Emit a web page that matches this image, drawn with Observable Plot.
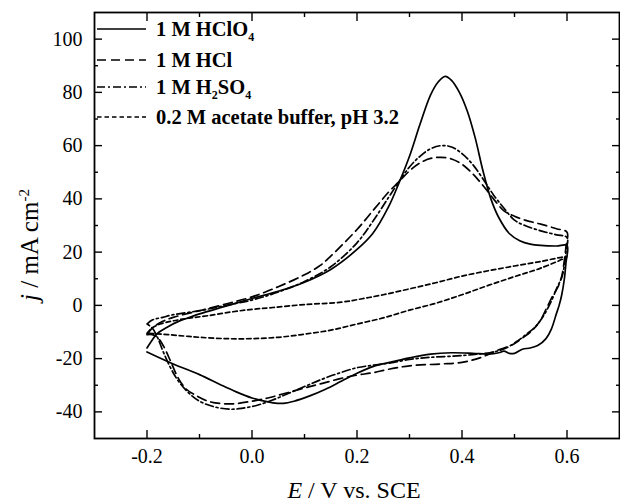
<!DOCTYPE html>
<html><head><meta charset="utf-8">
<script src="https://cdn.jsdelivr.net/npm/d3@7"></script>
<script src="https://cdn.jsdelivr.net/npm/@observablehq/plot@0.6"></script>
<style>body{margin:0;background:#fff} #chart{width:620px;height:504px} #chart svg text{font-family:"Liberation Serif",serif}</style>
</head><body><div id="chart"></div>
<script>
// ---- data (E / V vs SCE, j / mA cm-2), each curve is a closed CV loop ----
const seriesNames = ["1 M HClO4", "1 M HCl", "1 M H2SO4", "0.2 M acetate buffer, pH 3.2"];

// 1 M HClO4 (solid)
const hclo4FwdE = [-0.2,-0.19,-0.18,-0.16,-0.14,-0.12,-0.1,-0.05,0,0.05,0.1,0.15,0.2,0.23,0.26,0.28,0.3,0.32,0.34,0.355,0.368,0.38,0.395,0.41,0.425,0.44,0.455,0.47,0.49,0.51,0.53,0.55,0.58,0.6];
const hclo4FwdJ = [-16,-13,-10.5,-8,-6,-4.6,-3.2,-0.3,2.6,5.3,8.7,13.5,21,27,37,46,56,68,79,84,86,84.5,80,73,63,50.5,40,33,27,24.3,23,22.5,22.3,22.5];
const hclo4RevE = [0.598,0.595,0.59,0.585,0.58,0.57,0.56,0.545,0.53,0.515,0.5,0.49,0.48,0.47,0.45,0.42,0.38,0.34,0.3,0.26,0.23,0.2,0.17,0.14,0.11,0.08,0.06,0.04,0.02,0.0,-0.03,-0.06,-0.1,-0.15,-0.2];
const hclo4RevJ = [16,10,4,0,-3,-9,-12.5,-15,-16,-16.5,-18,-18,-17.2,-17.8,-18.3,-18,-17.8,-18.3,-19.7,-21.5,-23,-25.5,-28.5,-31.5,-34,-36,-36.8,-36.6,-35.8,-34.8,-32.5,-29.8,-26,-22,-17.5];

// 1 M HCl (dashed)
const hclFwdE = [-0.2,-0.19,-0.17,-0.15,-0.1,-0.05,0,0.05,0.1,0.13,0.15,0.2,0.23,0.26,0.28,0.3,0.32,0.34,0.36,0.38,0.4,0.42,0.44,0.46,0.48,0.5,0.52,0.55,0.58,0.6];
const hclFwdJ = [-11,-8.5,-6,-4.5,-2,0.5,3.2,7,11.5,15,18.5,28.5,35.5,42.5,46.5,50.5,53.5,55.2,55.6,55,53,49.5,45,40,35.5,33.5,32,30.5,28.8,27.5];
const hclRevE = [0.598,0.595,0.59,0.583,0.574,0.56,0.549,0.533,0.517,0.498,0.466,0.434,0.4,0.36,0.3,0.26,0.23,0.2,0.168,0.13,0.1,0.06,0.03,0.0,-0.04,-0.08,-0.11,-0.125,-0.14,-0.155,-0.168,-0.18,-0.19,-0.2];
const hclRevJ = [22,17,11,7,4,-1.5,-5.8,-9.5,-12,-14.6,-17,-19.7,-21.4,-22,-22.7,-24,-25.3,-26.2,-27.5,-29.5,-31,-33.2,-34.8,-36,-37,-36.2,-33.5,-31.5,-27.5,-21,-15.5,-12,-11,-11];

// 1 M H2SO4 (dash-dot)
const h2so4FwdE = [-0.2,-0.19,-0.17,-0.15,-0.1,-0.05,0,0.05,0.1,0.15,0.2,0.23,0.26,0.28,0.3,0.32,0.34,0.36,0.38,0.4,0.42,0.44,0.46,0.48,0.5,0.52,0.55,0.58,0.6];
const h2so4FwdJ = [-7,-5.5,-4.5,-3.5,-2,0,2,5,9,14.5,23.5,31.5,40.5,46.5,52,56,58.8,60,59.5,57,53,47.5,41.5,36.5,32,30,28,26.5,25.5];
const h2so4RevE = [0.598,0.595,0.59,0.581,0.57,0.555,0.54,0.523,0.505,0.485,0.47,0.453,0.42,0.39,0.35,0.327,0.3,0.264,0.23,0.2,0.168,0.13,0.1,0.07,0.04,0.01,-0.02,-0.04,-0.07,-0.1,-0.12,-0.14,-0.155,-0.17,-0.18,-0.19,-0.2];
const h2so4RevJ = [20,15,10.5,6.7,1.5,-4,-8,-10.8,-13.5,-15.9,-17,-17.8,-18.5,-19,-19.4,-19.7,-20.3,-21.6,-22.5,-23.4,-25.3,-28,-30.5,-33,-35.5,-37.5,-38.7,-39,-38.2,-36,-33,-28.5,-23.5,-17,-12,-8.5,-7];

// 0.2 M acetate buffer, pH 3.2 (dotted)
const acetFwdE = [-0.2,-0.19,-0.175,-0.15,-0.12,-0.085,-0.04,0.0,0.04,0.1,0.17,0.21,0.25,0.3,0.35,0.4,0.45,0.5,0.55,0.6];
const acetFwdJ = [-10.5,-8.5,-7,-5.8,-4.8,-3.9,-2.5,-1.5,-0.8,0.3,1.2,2.5,4,6.2,8.5,11,13,14.8,16.5,18.3];
const acetRevE = [0.55,0.5,0.45,0.4,0.35,0.3,0.25,0.2,0.15,0.1,0.05,0.0,-0.05,-0.1,-0.13,-0.16,-0.18,-0.2];
const acetRevJ = [14,10.8,7.5,4,0.8,-1.8,-4.7,-7,-9.3,-10.8,-12,-12.5,-12.5,-12,-11.5,-11,-10.7,-10.5];

const xMajor = [-0.2, 0, 0.2, 0.4, 0.6];
const xMinor = [-0.1, 0.1, 0.3, 0.5];
const yMajor = [-40, -20, 0, 20, 40, 60, 80, 100];
const yMinor = [-30, -10, 10, 30, 50, 70, 90];

const dashes = ["none", "9,5", "8,3,2,3", "4.5,3"];

function loop(name, fE, fJ, rE, rJ) {
  const E = fE.concat(rE), J = fJ.concat(rJ);
  return E.map((e, i) => ({series: name, E: e, j: J[i]}));
}
const curves = [
  loop(seriesNames[0], hclo4FwdE, hclo4FwdJ, hclo4RevE, hclo4RevJ),
  loop(seriesNames[1], hclFwdE, hclFwdJ, hclRevE, hclRevJ),
  loop(seriesNames[2], h2so4FwdE, h2so4FwdJ, h2so4RevE, h2so4RevJ),
  loop(seriesNames[3], acetFwdE, acetFwdJ, acetRevE, acetRevJ)
];

const serif = "Liberation Serif";
const blank = () => "";
const plot = Plot.plot({
  width: 620, height: 504,
  marginLeft: 94, marginRight: 1, marginTop: 12, marginBottom: 66,
  style: {fontFamily: serif, fontSize: "20px", color: "#000", background: "#fff"},
  x: {domain: [-0.3, 0.7]},
  y: {domain: [-50, 110]},
  marks: [
    Plot.axisX({ticks: xMajor, tickSize: 0, tickPadding: 10, tickFormat: d => d.toFixed(1), label: null, fontSize: 20, fontFamily: serif}),
    Plot.axisX({ticks: xMajor, tickSize: -8, tickFormat: blank, label: null, strokeWidth: 1.4}),
    Plot.axisX({ticks: xMinor, tickSize: -4, tickFormat: blank, label: null, strokeWidth: 1.4}),
    Plot.axisX({anchor: "top", ticks: xMajor, tickSize: -8, tickFormat: blank, label: null, strokeWidth: 1.4}),
    Plot.axisX({anchor: "top", ticks: xMinor, tickSize: -4, tickFormat: blank, label: null, strokeWidth: 1.4}),
    Plot.axisY({ticks: yMajor, tickSize: 0, tickPadding: 12, tickFormat: d => String(d), label: null, fontSize: 20, fontFamily: serif}),
    Plot.axisY({ticks: yMajor, tickSize: -8, tickFormat: blank, label: null, strokeWidth: 1.4}),
    Plot.axisY({ticks: yMinor, tickSize: -4, tickFormat: blank, label: null, strokeWidth: 1.4}),
    Plot.axisY({anchor: "right", ticks: yMajor, tickSize: -8, tickFormat: blank, label: null, strokeWidth: 1.4}),
    Plot.axisY({anchor: "right", ticks: yMinor, tickSize: -4, tickFormat: blank, label: null, strokeWidth: 1.4}),
    ...curves.map((c, k) => Plot.line(c, {x: "E", y: "j", stroke: "#000", strokeWidth: 1.7, strokeDasharray: dashes[k] === "none" ? null : dashes[k], curve: "catmull-rom"})),
    Plot.frame({stroke: "#000", strokeWidth: 1.8})
  ]
});
document.getElementById("chart").appendChild(plot);

// axis titles and legend with italics / sub- & superscripts
const svg = d3.select(plot);
svg.selectAll("g, text").attr("font-family", serif).style("font-family", serif);
const xt = svg.append("text").attr("x", 354).attr("y", 498).attr("text-anchor", "middle")
  .style("font-family", serif).attr("font-size", 24).attr("fill", "#000");
xt.append("tspan").attr("font-style", "italic").text("E");
xt.append("tspan").text(" / V vs. SCE");

const yt = svg.append("text").attr("transform", "translate(38,245) rotate(-90)").attr("text-anchor", "middle")
  .style("font-family", serif).attr("font-size", 25).attr("fill", "#000");
yt.append("tspan").attr("font-style", "italic").text("j");
yt.append("tspan").text(" / mA cm");
yt.append("tspan").attr("font-size", 15).attr("dy", -9).text("-2");

const legendRows = [
  {y: 29, parts: [["1 M HClO"], ["4", "sub"]]},
  {y: 60, parts: [["1 M HCl"]]},
  {y: 87, parts: [["1 M H"], ["2", "sub"], ["SO"], ["4", "sub"]]},
  {y: 117, parts: [["0.2 M acetate buffer, pH 3.2"]]}
];
const lg = svg.append("g");
legendRows.forEach((r, k) => {
  lg.append("line").attr("x1", 97).attr("x2", 146).attr("y1", r.y).attr("y2", r.y)
    .attr("stroke", "#000").attr("stroke-width", 1.7)
    .attr("stroke-dasharray", dashes[k] === "none" ? null : dashes[k]);
  const t = lg.append("text").attr("x", 156).attr("y", r.y + 7).attr("text-anchor", "start")
    .style("font-family", serif).attr("font-size", 20.5).attr("font-weight", "bold").attr("fill", "#000");
  let shifted = false;
  r.parts.forEach(([s, kind]) => {
    const ts = t.append("tspan").text(s);
    if (kind === "sub") { ts.attr("font-size", 12).attr("dy", shifted ? 0 : 5); shifted = true; }
    else if (shifted) { ts.attr("dy", -5); shifted = false; }
  });
});
</script>
</body></html>
